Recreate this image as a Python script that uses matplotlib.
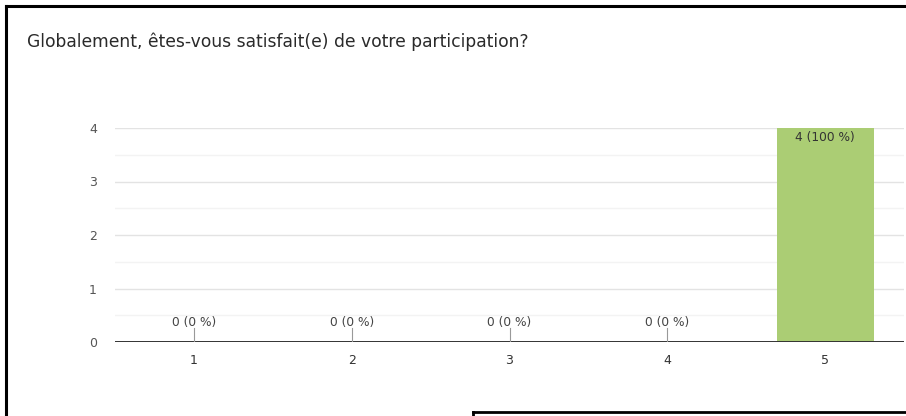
import matplotlib.pyplot as plt
from matplotlib.lines import Line2D

title = 'Globalement, êtes-vous satisfait(e) de votre participation?'
categories = [1, 2, 3, 4, 5]
counts = [0, 0, 0, 0, 4]
percents = [0, 0, 0, 0, 100]

plt.rcParams['font.family'] = ['DejaVu Sans']

fig = plt.figure(figsize=(9.06, 4.16), dpi=100)
fig.patch.set_facecolor('white')

# Outer frame (top and left edges visible) and the small box at the bottom
fig.add_artist(Line2D([5.5 / 906, 5.5 / 906], [0, 1 - 5.5 / 416], color='black', lw=2.2))
fig.add_artist(Line2D([5.5 / 906, 1], [1 - 5.5 / 416, 1 - 5.5 / 416], color='black', lw=2.2))
fig.add_artist(Line2D([472.5 / 906, 1], [1 - 411.5 / 416, 1 - 411.5 / 416], color='black', lw=2.0))
fig.add_artist(Line2D([472.5 / 906, 472.5 / 906], [0, 1 - 411.5 / 416], color='black', lw=2.0))

fig.text(27 / 906, 1 - 42 / 416, title, fontsize=12.3, color='#2a2a2a', va='center', ha='left')

ax = fig.add_axes([115 / 906, 1 - 342 / 416, 789 / 906, 214 / 416])
ax.bar(categories, counts, width=0.615, color='#abcd74', zorder=2)

ax.set_xlim(0.5, 5.5)
ax.set_ylim(0, 4)
ax.set_xticks(categories)
ax.set_yticks([0, 1, 2, 3, 4])
ax.set_yticks([0.5, 1.5, 2.5, 3.5], minor=True)
ax.grid(axis='y', which='major', color='#e3e3e3', lw=1.0, zorder=0)
ax.grid(axis='y', which='minor', color='#f3f3f3', lw=1.0, zorder=0)
ax.tick_params(axis='both', which='both', length=0)
ax.tick_params(axis='y', labelsize=9, labelcolor='#555555', pad=13)
ax.tick_params(axis='x', labelsize=9, labelcolor='#333333', pad=9)
for s in ax.spines.values():
    s.set_visible(False)
ax.axhline(0, color='#333333', lw=1.4, zorder=3)

for x, c, p in zip(categories, counts, percents):
    label = '{} ({} %)'.format(c, p)
    if c == 0:
        ax.plot([x, x], [0, 0.26], color='#999999', lw=0.8, zorder=3)
        ax.text(x, 0.37, label, ha='center', va='center', fontsize=8.8, color='#444444')
    else:
        ax.text(x, c - 0.17, label, ha='center', va='center', fontsize=8.8, color='#333333')

fig.savefig('out.png', dpi=100)
